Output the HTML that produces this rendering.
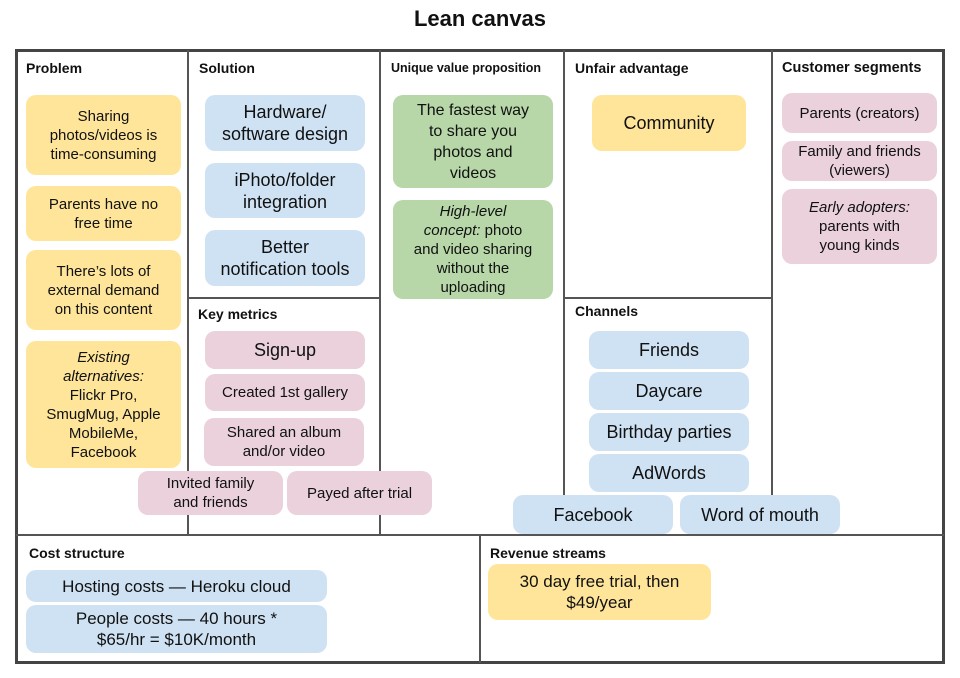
<!DOCTYPE html>
<html><head><meta charset="utf-8"><style>
body{margin:0;width:960px;height:678px;background:#fff;font-family:"Liberation Sans",Arial,sans-serif;position:relative;overflow:hidden;color:#111}
.a{position:absolute}
.t{left:0;width:960px;top:6px;text-align:center;font-weight:bold;font-size:22px}
.frame{left:15px;top:49px;width:924px;height:609px;border:3px solid #444}
.vl{position:absolute;width:2px;background:#555}
.hl{position:absolute;height:2px;background:#555}
.h{position:absolute;font-weight:bold;font-size:14px}
.b{position:absolute;display:flex;align-items:center;justify-content:center;text-align:center;border-radius:10px;font-size:15px;line-height:19px;box-sizing:border-box;padding:0 2px;white-space:nowrap}
.y{background:#fee59a}.bl{background:#cfe2f3}.p{background:#ead1dc}.g{background:#b7d7a8}
.l{font-size:18px;line-height:22px}
</style></head><body>
<div class="a t">Lean canvas</div>
<div class="a frame"></div>
<div class="vl" style="left:187px;top:50px;height:486px"></div>
<div class="vl" style="left:379px;top:50px;height:486px"></div>
<div class="vl" style="left:563px;top:50px;height:486px"></div>
<div class="vl" style="left:771px;top:50px;height:486px"></div>
<div class="hl" style="left:16px;top:534px;width:928px"></div>
<div class="hl" style="left:188px;top:297px;width:192px"></div>
<div class="hl" style="left:564px;top:297px;width:208px"></div>
<div class="vl" style="left:479px;top:535px;height:128px"></div>

<div class="h" style="left:26px;top:60px">Problem</div>
<div class="h" style="left:199px;top:60px">Solution</div>
<div class="h" style="left:391px;top:61px;font-size:12.5px">Unique value proposition</div>
<div class="h" style="left:575px;top:60px">Unfair advantage</div>
<div class="h" style="left:782px;top:60px;font-size:14.5px">Customer segments</div>
<div class="h" style="left:198px;top:306px">Key metrics</div>
<div class="h" style="left:575px;top:303px">Channels</div>
<div class="h" style="left:29px;top:545px">Cost structure</div>
<div class="h" style="left:490px;top:545px">Revenue streams</div>

<div class="b y" style="left:26px;top:95px;width:155px;height:80px">Sharing<br>photos/videos is<br>time-consuming</div>
<div class="b y" style="left:26px;top:186px;width:155px;height:55px">Parents have no<br>free time</div>
<div class="b y" style="left:26px;top:250px;width:155px;height:80px">There’s lots of<br>external demand<br>on this content</div>
<div class="b y" style="left:26px;top:341px;width:155px;height:127px"><span><i>Existing<br>alternatives:</i><br>Flickr Pro,<br>SmugMug, Apple<br>MobileMe,<br>Facebook</span></div>

<div class="b bl l" style="left:205px;top:95px;width:160px;height:56px">Hardware/<br>software design</div>
<div class="b bl l" style="left:205px;top:163px;width:160px;height:55px">iPhoto/folder<br>integration</div>
<div class="b bl l" style="left:205px;top:230px;width:160px;height:56px">Better<br>notification tools</div>

<div class="b p l" style="left:205px;top:331px;width:160px;height:38px">Sign-up</div>
<div class="b p" style="left:205px;top:374px;width:160px;height:37px">Created 1st gallery</div>
<div class="b p" style="left:204px;top:418px;width:160px;height:48px">Shared an album<br>and/or video</div>
<div class="b p" style="left:138px;top:471px;width:145px;height:44px">Invited family<br>and friends</div>
<div class="b p" style="left:287px;top:471px;width:145px;height:44px">Payed after trial</div>

<div class="b g" style="left:393px;top:95px;width:160px;height:93px;font-size:16px;line-height:21px">The fastest way<br>to share you<br>photos and<br>videos</div>
<div class="b g" style="left:393px;top:200px;width:160px;height:99px"><span><i>High-level<br>concept:</i> photo<br>and video sharing<br>without the<br>uploading</span></div>

<div class="b y l" style="left:592px;top:95px;width:154px;height:56px">Community</div>

<div class="b bl l" style="left:589px;top:331px;width:160px;height:38px">Friends</div>
<div class="b bl l" style="left:589px;top:372px;width:160px;height:38px">Daycare</div>
<div class="b bl l" style="left:589px;top:413px;width:160px;height:38px">Birthday parties</div>
<div class="b bl l" style="left:589px;top:454px;width:160px;height:38px">AdWords</div>
<div class="b bl l" style="left:513px;top:495px;width:160px;height:39px">Facebook</div>
<div class="b bl l" style="left:680px;top:495px;width:160px;height:39px">Word of mouth</div>

<div class="b p" style="left:782px;top:93px;width:155px;height:40px">Parents (creators)</div>
<div class="b p" style="left:782px;top:141px;width:155px;height:40px">Family and friends<br>(viewers)</div>
<div class="b p" style="left:782px;top:189px;width:155px;height:75px"><span><i>Early adopters:</i><br>parents with<br>young kinds</span></div>

<div class="b bl" style="left:26px;top:570px;width:301px;height:32px;font-size:17px">Hosting costs — Heroku cloud</div>
<div class="b bl" style="left:26px;top:605px;width:301px;height:48px;font-size:17px;line-height:21px">People costs — 40 hours *<br>$65/hr = $10K/month</div>

<div class="b y" style="left:488px;top:564px;width:223px;height:56px;font-size:17px;line-height:21px">30 day free trial, then<br>$49/year</div>
</body></html>
